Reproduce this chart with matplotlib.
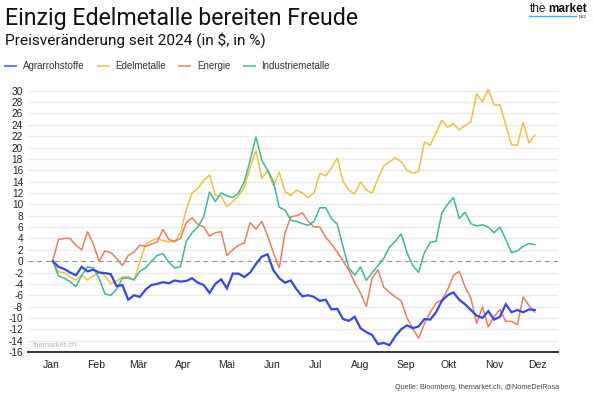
import matplotlib
matplotlib.use("Agg")
import matplotlib.pyplot as plt
from matplotlib.lines import Line2D
import pandas as pd

dates = pd.date_range("2024-01-02", "2024-11-29", freq="4D")

agrar = [0, -1.0, -1.4, -2.0, -2.5, -1.0, -1.8, -1.5, -2.0, -2.1,
         -2.3, -4.4, -4.2, -6.8, -6.0, -6.3, -5.0, -4.2, -4.0, -3.7,
         -3.9, -3.4, -3.6, -3.5, -3.0, -3.8, -4.2, -5.6, -4.0, -3.2,
         -4.8, -2.2, -2.2, -2.8, -2.0, -0.5, 0.8, 1.2, -1.6, -3.0,
         -3.8, -3.4, -5.0, -6.2, -6.0, -6.3, -7.0, -6.8, -8.5, -8.4,
         -10.2, -10.5, -9.8, -11.8, -12.5, -13.0, -14.6, -14.4, -14.8, -13.2,
         -12.0, -11.3, -11.8, -11.5, -10.2, -10.3, -9.0, -7.0, -6.0, -5.5,
         -6.8, -7.6, -8.6, -9.6, -10.0, -8.8, -10.3, -9.8, -7.6, -9.0,
         -8.6, -9.0, -8.5, -8.6]

edel = [0, -1.9, -2.0, -2.8, -3.3, -2.5, -3.3, -2.6, -2.0, -2.6,
        -4.0, -3.5, -2.8, -2.7, -3.3, -0.2, 3.0, 3.6, 4.0, 3.6,
        3.4, 3.4, 5.0, 9.0, 12.0, 12.8, 14.2, 15.2, 11.6, 11.4,
        9.6, 10.5, 11.5, 13.0, 16.5, 19.5, 14.5, 16.0, 13.2, 15.7,
        12.2, 11.6, 12.5, 12.0, 11.2, 12.0, 15.5, 15.0, 16.4, 18.2,
        14.0, 12.5, 11.8, 14.0, 12.5, 12.0, 14.5, 16.8, 17.5, 18.2,
        17.5, 16.0, 15.5, 15.8, 21.0, 20.4, 22.6, 24.8, 23.6, 24.2,
        23.1, 23.9, 24.5, 29.5, 28.0, 30.3, 27.5, 27.5, 24.0, 20.5,
        20.4, 24.5, 20.8, 22.2]

energie = [0, 3.8, 4.0, 4.0, 2.8, 2.0, 5.2, 3.0, 0.0, 1.8,
           1.5, 0.5, -0.8, 1.0, 1.6, 2.8, 2.6, 3.0, 3.4, 5.6,
           3.8, 3.5, 4.0, 6.8, 7.6, 6.5, 6.0, 4.4, 5.0, 5.2,
           1.0, 2.0, 2.8, 3.2, 6.8, 5.6, 7.0, 4.5, 1.5, -1.2,
           5.0, 7.8, 8.0, 8.5, 7.0, 6.0, 6.0, 4.2, 3.0, 1.6,
           0.0, -1.6, -3.8, -5.6, -8.0, -3.0, -1.5, -4.6, -5.5, -6.3,
           -7.0, -10.0, -11.8, -13.6, -11.0, -9.0, -7.4, -6.8, -5.0, -2.5,
           -1.8, -4.5, -6.5, -11.0, -8.0, -11.6, -9.8, -8.5, -10.6, -10.6,
           -11.2, -6.3, -7.8, -9.0]

industrie = [0, -2.6, -3.0, -3.6, -4.5, -2.5, -1.0, -1.2, -3.0, -5.8,
             -6.0, -5.0, -3.0, -3.0, -3.3, -1.8, -1.2, 0.0, 1.0, 1.3,
             -0.2, -1.2, -1.0, 3.5, 5.0, 6.0, 7.8, 12.2, 10.5, 12.0,
             11.5, 11.2, 12.0, 14.0, 17.8, 21.9, 17.8, 16.0, 14.0, 9.5,
             9.0, 7.2, 7.0, 6.6, 6.3, 7.0, 9.4, 9.4, 7.5, 6.5,
             2.5, -1.2, -2.5, -1.0, -3.4, -2.0, -0.8, 0.5, 2.5, 3.5,
             4.8, 1.5, -0.8, -2.0, 1.5, 3.3, 3.5, 8.5, 10.0, 11.2,
             7.5, 8.6, 6.6, 6.2, 6.4, 6.0, 5.0, 6.0, 3.8, 1.5,
             1.8, 2.6, 3.1, 2.9]

names = ["Agrarrohstoffe", "Edelmetalle", "Energie", "Industriemetalle"]
colors = ["#3347ee", "#f2c13a", "#ec7d5f", "#3cb89c"]
widths = [1.6, 1.1, 1.1, 1.1]

month_ticks = pd.date_range("2024-01-01", "2024-12-01", freq="MS")
month_labels = ["Jan", "Feb", "Mär", "Apr", "Mai", "Jun",
                "Jul", "Aug", "Sep", "Okt", "Nov", "Dez"]
y_ticks = list(range(-16, 31, 2))

W, H = 593, 396
fig = plt.figure(figsize=(W / 100, H / 100), dpi=100)
ax = fig.add_axes([28 / W, 0.1111, 530 / W, 0.674])

for yt in y_ticks:
    if yt in (0, -16):
        continue
    ax.axhline(yt, color="#ebebeb", lw=1.0, zorder=0)
ax.axhline(0, color="#999999", lw=0.9, ls=(0, (4, 3)), zorder=1)

# Agrar zuletzt zeichnen, liegt im Original oben
order = [1, 2, 3, 0]
all_series = [agrar, edel, energie, industrie]
for k in order:
    ax.plot(dates, all_series[k], color=colors[k], lw=widths[k],
            zorder=3 + (k == 0), solid_joinstyle="miter", clip_on=False)

ax.set_xlim(pd.Timestamp("2023-12-16"), pd.Timestamp("2024-12-15"))
ax.set_ylim(-16, 31)
ax.set_yticks(y_ticks)
ax.set_yticklabels([str(v) for v in y_ticks], fontfamily="Liberation Sans",
                   fontsize=7.3, color="#222222")
ax.set_xticks(month_ticks)
ax.set_xticklabels(month_labels, fontfamily="Liberation Sans",
                   fontsize=7.5, color="#222222")
ax.tick_params(axis="both", length=0)
ax.tick_params(axis="y", pad=3.5)
ax.tick_params(axis="x", pad=6)
for s in ["top", "right", "left"]:
    ax.spines[s].set_visible(False)
ax.spines["bottom"].set_color("#333333")
ax.spines["bottom"].set_linewidth(1.4)
ax.patch.set_visible(False)

ax.text(0.01, 0.012, "themarket.ch", transform=ax.transAxes,
        fontfamily="Liberation Sans", fontsize=5.5, color="#b5b5b5",
        va="bottom", ha="left")

# Titel
fig.text(5 / W, 1 - 25 / H, "Einzig Edelmetalle bereiten Freude",
         fontfamily="Roboto", fontsize=16.7, color="#111111", va="baseline")
fig.text(5 / W, 1 - 45 / H, "Preisveränderung seit 2024 (in $, in %)",
         fontfamily="Roboto", fontsize=11.1, color="#111111", va="baseline")

handles = [Line2D([], [], color=c, lw=1.4, alpha=0.75) for c in colors]
fig.legend(handles, names, loc="center left",
           bbox_to_anchor=(5 / W, 1 - 66 / H), ncol=4, frameon=False,
           prop={"family": "Liberation Sans", "size": 7},
           handlelength=1.1, handletextpad=0.7, columnspacing=1.4,
           borderpad=0, borderaxespad=0, labelcolor="#333333")

# Logo
renderer = fig.canvas.get_renderer()
t_market = fig.text(587 / W, 1 - 12 / H, "market", fontfamily="Liberation Sans",
                    fontsize=8.5, fontweight="bold", color="#111111",
                    va="baseline", ha="right")
x_market = t_market.get_window_extent(renderer).x0
fig.text((x_market - 2.5) / W, 1 - 12 / H, "the", fontfamily="Liberation Sans",
         fontsize=8.5, color="#111111", va="baseline", ha="right")
fig.add_artist(Line2D([529 / W, 576 / W], [1 - 16 / H, 1 - 16 / H],
                      color="#2bb5e8", lw=1.0))
fig.text(587 / W, 1 - 18.5 / H, "NZZ", fontfamily="Liberation Sans",
         fontsize=3, color="#333333", va="baseline", ha="right")

fig.text(559 / W, 1 - 389 / H, "Quelle: Bloomberg, themarket.ch, @NomeDelRosa",
         fontfamily="Liberation Sans", fontsize=5.2, color="#444444",
         ha="right", va="baseline")

fig.savefig("out.png", dpi=100)
